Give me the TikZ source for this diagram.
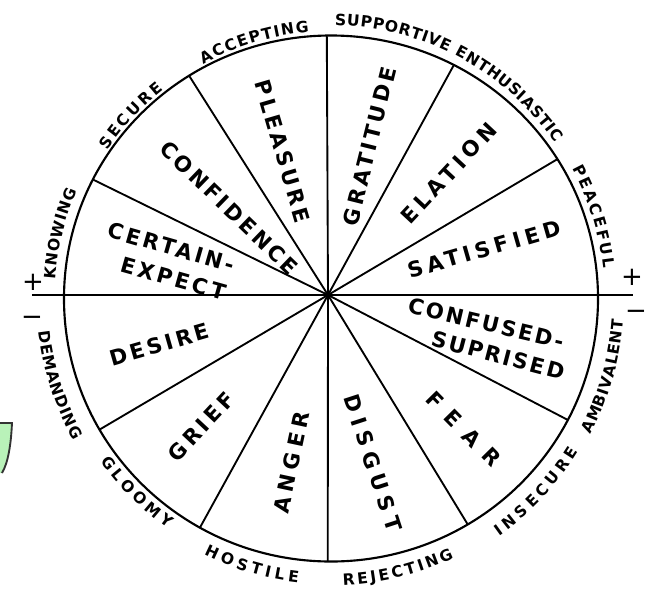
\documentclass[tikz,border=0pt]{standalone}
\usepackage{fontspec}
\setmainfont{DejaVu Sans}
\newfontfamily\labfont{DejaVu Sans}
\usetikzlibrary{decorations.text}
\newcommand\segstyle{\labfont\bfseries\fontsize{16}{18}\selectfont}
\newcommand\outerstyle{\labfont\bfseries\fontsize{11.7}{13}\selectfont}
\newcommand\lsp[1]{\addfontfeature{LetterSpace=#1}}
\definecolor{artgreen}{RGB}{185,242,185}
\tikzset{
  rim/.style={line width=1.6pt},
  spoke/.style={line width=1.4pt},
  axisline/.style={line width=1.2pt},
  seglabel/.style={font=\segstyle, inner sep=0pt},
  signlabel/.style={font=\labfont\fontsize{19.5}{20}\selectfont, inner sep=0pt},
  upperlabel/.style={decorate, decoration={text along path, text={|\outerstyle|#1}, text align={fit to path}}},
  lowerlabel/.style={decorate, decoration={text along path, text={|\outerstyle|#1}, text align={fit to path}}},
}
\begin{document}
\begin{tikzpicture}[x=0.75pt,y=0.75pt]
\fill[white] (-328,295) rectangle (320,-295);
\useasboundingbox (-328,295) rectangle (320,-295);

% artifact at left edge
\fill[artgreen] (-328,-128) -- (-316,-128) .. controls (-317,-150) and (-320,-168) .. (-326,-178) -- (-328,-178) -- cycle;
\draw[line width=1.4pt, black!80] (-328,-128) -- (-316,-128) .. controls (-317,-150) and (-320,-168) .. (-326,-178);

\coordinate (hub) at (0,0);
\coordinate (E) at (3,-3.5);
\begin{scope}[shift={(3,-3.5)}]
  \coordinate (r1) at (153.1:267 and 263);
  \coordinate (r2) at (122.1:267 and 263);
  \coordinate (r3) at (90.9:267 and 263);
  \coordinate (r4) at (62.6:267 and 263);
  \coordinate (r5) at (32.0:267 and 263);
  \coordinate (r6) at (-27.5:267 and 263);
  \coordinate (r7) at (-59.2:267 and 263);
  \coordinate (r8) at (-90.7:267 and 263);
  \coordinate (r9) at (-119.4:267 and 263);
  \coordinate (r10) at (-150.1:267 and 263);
\end{scope}
\coordinate (axL) at (-296,0);
\coordinate (axR) at (305,0);

\draw[rim] (E) ellipse [x radius=267, y radius=263];
\draw[axisline] (axL) -- (axR);
\foreach \r in {r1,r2,r3,r4,r5,r6,r7,r8,r9,r10} \draw[spoke] (hub) -- (\r);

% sector labels
\node[seglabel, rotate=-73.6] (pleasure) at (-46,145) {\lsp{16}PLEASURE\kern-0.16em};
\node[seglabel, rotate=-44] (confidence) at (-100,88) {\lsp{14}CONFIDENCE\kern-0.14em};
\node[seglabel, rotate=-16] (certain) at (-158,48) {\lsp{14}CERTAIN-\kern-0.14em};
\node[seglabel, rotate=-15.7] (expect) at (-156,17) {\lsp{15}EXPECT\kern-0.15em};
\node[seglabel, rotate=76] (gratitude) at (41,147) {\lsp{16}GRATITUDE\kern-0.16em};
\node[seglabel, rotate=47] (elation) at (119,120) {\lsp{22}ELATION\kern-0.22em};
\node[seglabel, rotate=16] (satisfied) at (154,45) {\lsp{21}SATISFIED\kern-0.21em};
\node[seglabel, rotate=-13.3] (confused) at (157,-28) {\lsp{11}CONFUSED-\kern-0.11em};
\node[seglabel, rotate=-14.6] (suprised) at (169,-60) {\lsp{11}SUPRISED\kern-0.11em};
\node[seglabel, rotate=-45.5] (fear) at (132,-130) {\lsp{52}FEAR\kern-0.52em};
\node[seglabel, rotate=-72] (disgust) at (44,-165) {\lsp{29}DISGUST\kern-0.29em};
\node[seglabel, rotate=78] (anger) at (-37,-170) {\lsp{24}ANGER\kern-0.24em};
\node[seglabel, rotate=47] (grief) at (-128,-133) {\lsp{17}GRIEF\kern-0.17em};
\node[seglabel, rotate=16] (desire) at (-170,-50) {\lsp{15}DESIRE\kern-0.15em};

% outer labels
\begin{scope}[shift={(3,-3.5)}]
  \path[upperlabel=KNOWING] (176.0:276) arc[start angle=176.0, end angle=157.0, radius=276];
  \path[upperlabel=SECURE] (146.5:268) arc[start angle=146.5, end angle=128.7, radius=268];
  \path[upperlabel=ACCEPTING] (118.6:267) arc[start angle=118.6, end angle=94.7, radius=267];
  \path[upperlabel=SUPPORTIVE ENTHUSIASTIC] (89.2:273) arc[start angle=89.2, end angle=34.7, radius=273];
  \path[upperlabel=PEACEFUL] (28.4:274) arc[start angle=28.4, end angle=6.3, radius=274];
  \path[lowerlabel=DEMANDING] (186.5:294) arc[start angle=186.5, end angle=208.9, radius=294];
  \path[lowerlabel=GLOOMY] (215.3:282) arc[start angle=215.3, end angle=234.6, radius=282];
  \path[lowerlabel=HOSTILE] (243.6:286) arc[start angle=243.6, end angle=263.4, radius=286];
  \path[lowerlabel=REJECTING] (272.4:287) arc[start angle=272.4, end angle=295.4, radius=287];
  \path[lowerlabel=INSECURE] (305.3:291) arc[start angle=305.3, end angle=328.3, radius=291];
  \path[lowerlabel=AMBIVALENT] (332.4:293) arc[start angle=332.4, end angle=355.8, radius=293];
\end{scope}

% signs
\node[signlabel] (plusL) at (-295,13) {+};
\node[signlabel] (minusL) at (-296,-26) {−};
\node[signlabel] (plusR) at (304,18) {+};
\node[signlabel] (minusR) at (308,-20) {−};
\end{tikzpicture}
\end{document}
